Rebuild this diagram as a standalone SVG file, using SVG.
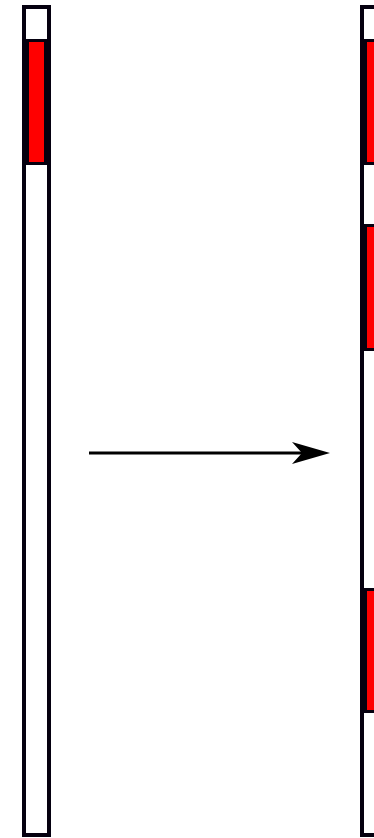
<svg xmlns="http://www.w3.org/2000/svg" width="374" height="838" viewBox="0 0 374 838">
<style>
.bar{fill:#ffffff;stroke:#05000f;stroke-width:4}
.seg{fill:#ff0000;stroke:#05000f;stroke-width:3}
.conn{stroke:#000000;stroke-width:3;fill:none}
</style>
<rect width="374" height="838" fill="#ffffff"/>
<g id="left-bar">
<rect class="bar" x="24" y="7" width="25" height="828"/>
<rect class="seg" x="27.5" y="40.5" width="18" height="123"/>
</g>
<g id="right-bar">
<rect class="bar" x="362" y="7" width="25" height="828"/>
<rect class="seg" x="365.5" y="40.5" width="18" height="123"/>
<rect class="seg" x="365.5" y="225.5" width="18" height="124"/>
<rect class="seg" x="365.5" y="589.5" width="18" height="122"/>
</g>
<g id="connectors">
<line class="conn" x1="89" y1="453" x2="305" y2="453"/>
<path d="M330,453 L292,442 L302,453 L292,464 Z" fill="#000000"/>
</g>
</svg>
